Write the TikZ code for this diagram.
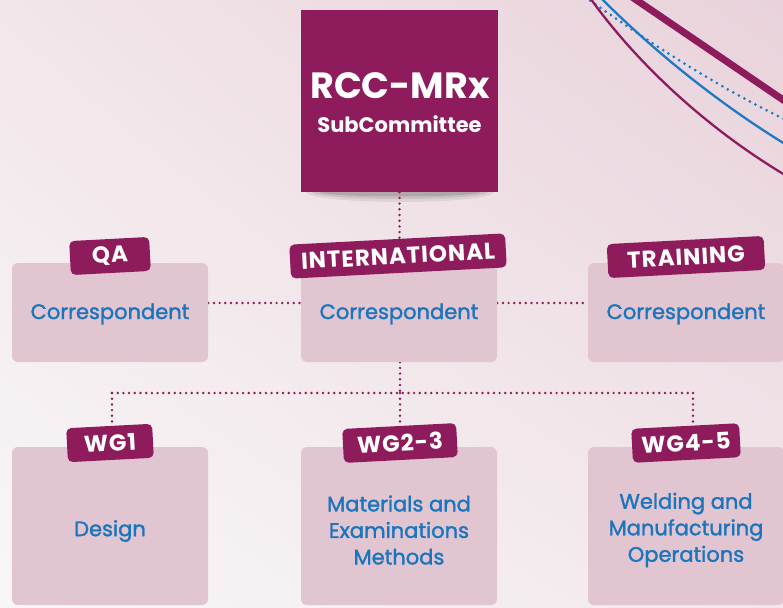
\documentclass[tikz,border=0pt]{standalone}
\usepackage{fontspec}
\setmainfont{Poppins}
\newfontfamily\bluefont{Poppins}[FakeBold=1.5]
\newfontfamily\tagfont{Poppins}[LetterSpace=4]
\usetikzlibrary{shadings}
\definecolor{plum}{HTML}{8E1B5C}
\definecolor{boxpink}{HTML}{E1C5D1}
\definecolor{txtblue}{HTML}{1B75BC}
\definecolor{decoblue}{HTML}{1F7AC4}
\definecolor{bgul}{HTML}{F2E6EA}
\definecolor{bgur}{HTML}{E9D2DB}
\definecolor{bgll}{HTML}{F8F7F7}
\definecolor{bglr}{HTML}{F2E8EC}
\pgfdeclarelayer{bg}
\pgfsetlayers{bg,main}
\tikzset{
  box/.style={fill=boxpink, rounded corners=6pt, inner sep=0pt, minimum width=196pt},
  wgbox/.style={box, minimum height=158pt},
  cbox/.style={box, minimum height=99pt},
  lbl/.style={text=txtblue, align=center, inner sep=0pt, font=\bluefont\fontsize{21}{26.5}\selectfont},
  tag/.style={fill=plum, text=white, rounded corners=5pt, inner sep=0pt, minimum height=34pt,
    font=\tagfont\bfseries\fontsize{23}{24}\selectfont, rotate=3},
  conn/.style={draw=plum, line width=2.7pt, line cap=round, dash pattern=on 0pt off 5.7pt},
}
\begin{document}
\begin{tikzpicture}[x=1pt, y=-1pt]
\useasboundingbox (0,0) rectangle (783,607);
\clip (0,0) rectangle (783,607);
% boxes
\node[fill=plum, minimum width=197pt, minimum height=182pt, inner sep=0pt] (top) at (399.5,101) {};
\node[text=white, font=\bfseries\fontsize{36.5}{40}\selectfont] (ttl) at (400,86) {RCC-MRx};
\node[text=white, font=\bfseries\fontsize{21}{24}\selectfont] (sub) at (399.5,124) {SubCommittee};

\node[cbox] (qa) at (110,312.5) {};
\node[cbox] (intl) at (399,312.5) {};
\node[cbox] (trn) at (686,312.5) {};
\node[lbl] (qal) at (110,314) {Correspondent};
\node[lbl] (intll) at (399,314) {Correspondent};
\node[lbl] (trnl) at (686,314) {Correspondent};

\node[wgbox] (wg1) at (110,526) {};
\node[wgbox] (wg23) at (399,526) {};
\node[wgbox] (wg45) at (686,526) {};
\node[lbl] (wg1l) at (110,531) {Design};
\node[lbl] (wg23l) at (399,530) {Materials and\\Examinations\\Methods};
\node[lbl] (wg45l) at (686,530) {Welding and\\Manufacturing\\Operations};

% tags
\node[tag, minimum width=80pt] (tqa) at (110,256) {QA};
\node[tag, minimum width=216pt] (tintl) at (398,256) {INTERNATIONAL};
\node[tag, minimum width=157pt] (ttrn) at (686,257) {TRAINING};
\node[tag, minimum width=86pt] (twg1) at (110,443) {WG1};
\node[tag, minimum width=114pt] (twg23) at (400,443) {WG2-3};
\node[tag, minimum width=108pt] (twg45) at (686,443) {WG4-5};

\coordinate (j) at (400,393);
\coordinate (jl) at (112,393);
\coordinate (jr) at (693,393);

\begin{pgfonlayer}{bg}
  \shade[upper left=bgul, upper right=bgur, lower left=bgll, lower right=bglr]
    (0,0) rectangle (783,607);
  % decorative lines
  \draw[plum, line width=7pt] (632,-3) -- (795,108);
  \draw[decoblue, line width=3pt, line cap=round, dash pattern=on 0pt off 6.3pt]
    (585,-3) .. controls (660,50) and (720,88) .. (790,122);
  \draw[decoblue, line width=2.3pt] (598,-5) .. controls (650,48) and (720,105) .. (790,147);
  \draw[plum, line width=2.3pt] (588,-5) .. controls (630,55) and (700,125) .. (790,178);
  % shadow of top box
  \fill[black, opacity=0.07] (400,192) ellipse (94pt and 10pt);
  \fill[black, opacity=0.09] (400,192) ellipse (88pt and 7pt);
  \fill[black, opacity=0.12] (400,192) ellipse (80pt and 4.5pt);
  % connectors
  \draw[conn] (top.south) -- (top.south |- tintl.center);
  \draw[conn] ([yshift=9.5pt]qa.east) -- ([yshift=9.5pt]intl.west);
  \draw[conn] ([yshift=9.5pt]intl.east) -- ([yshift=9.5pt]trn.west);
  \draw[conn] (intl.south -| j) -- (j);
  \draw[conn] (jl) -- (jr);
  \draw[conn] (jl) -- (jl |- twg1.center);
  \draw[conn] (j) -- (j |- twg23.center);
  \draw[conn] (jr) -- (jr |- twg45.center);
\end{pgfonlayer}
\end{tikzpicture}
\end{document}
